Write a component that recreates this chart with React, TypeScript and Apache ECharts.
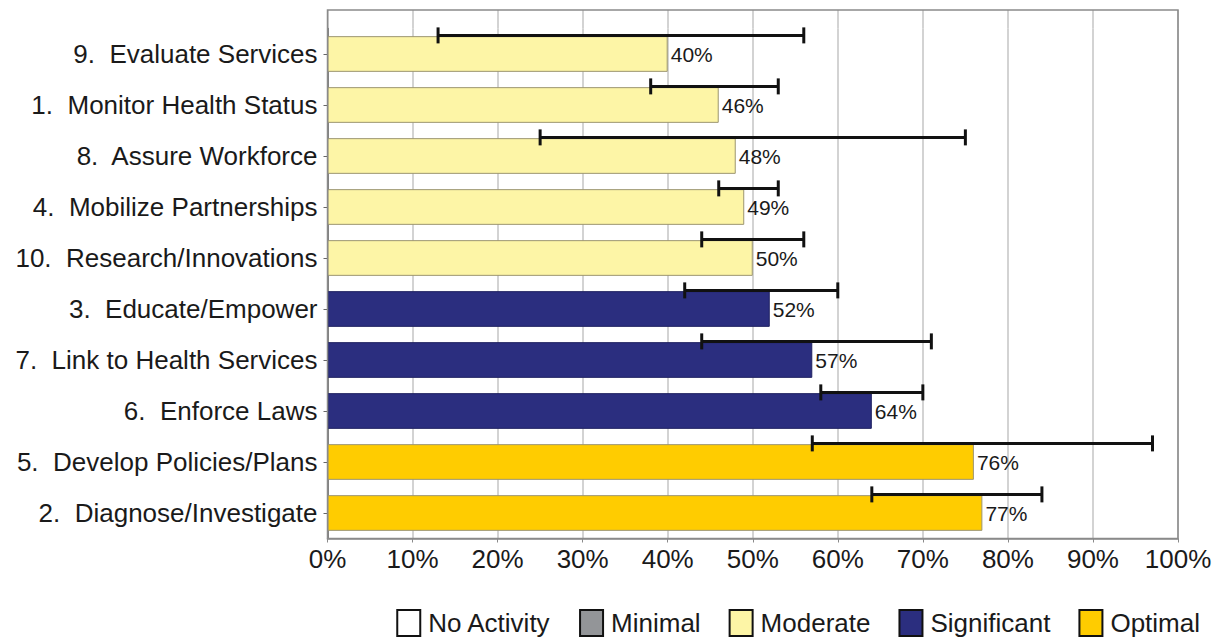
import React, { useEffect, useRef } from "react";
import * as echarts from "echarts";

const categories = [
  "9.  Evaluate Services",
  "1.  Monitor Health Status",
  "8.  Assure Workforce",
  "4.  Mobilize Partnerships",
  "10.  Research/Innovations",
  "3.  Educate/Empower",
  "7.  Link to Health Services",
  "6.  Enforce Laws",
  "5.  Develop Policies/Plans",
  "2.  Diagnose/Investigate",
];
const values = [40, 46, 48, 49, 50, 52, 57, 64, 76, 77];
const levels = [
  "Moderate", "Moderate", "Moderate", "Moderate", "Moderate",
  "Significant", "Significant", "Significant",
  "Optimal", "Optimal",
];
const errLow = [13, 38, 25, 46, 44, 42, 44, 58, 57, 64];
const errHigh = [56, 53, 75, 53, 56, 60, 71, 70, 97, 84];
const legendNames = ["No Activity", "Minimal", "Moderate", "Significant", "Optimal"];
const legendColors = ["#ffffff", "#939598", "#fdf5a6", "#2b2e7f", "#ffcc00"];
const xTicks = [0, 10, 20, 30, 40, 50, 60, 70, 80, 90, 100];

const FONT = "Liberation Sans, Arial, sans-serif";
const W = 1218;
const H = 637;
const PL = 327.5;
const PR = 1178;
const PT = 10;
const CT = 28.5;
const PB = 538.5;

export default function App() {
  const ref = useRef<HTMLDivElement>(null);
  useEffect(() => {
    if (!ref.current) return;
    const chart = echarts.init(ref.current, undefined, { renderer: "svg" });
    const barSeries = legendNames.map((name, k) => ({
      name,
      type: "bar",
      xAxisIndex: 0,
      yAxisIndex: 0,
      barWidth: "70%",
      barGap: "-100%",
      data: values.map((v, i) => (levels[i] === name ? v : "-")),
      itemStyle: {
        color: legendColors[k],
        borderColor: name === "Significant" ? "#1e2060" : "#9c9570",
        borderWidth: 1,
      },
      label: {
        show: true,
        position: "right",
        distance: 3,
        formatter: "{c}%",
        fontFamily: FONT,
        fontSize: 21,
        color: "#1a1a1a",
      },
      z: 2,
    }));
    const errSeries = {
      name: "err",
      type: "custom",
      xAxisIndex: 0,
      yAxisIndex: 0,
      z: 5,
      data: errLow.map((l, i) => [i, l, errHigh[i]]),
      encode: { x: [1, 2], y: 0 },
      renderItem: (params: any, api: any) => {
        const idx = api.value(0);
        const p1 = api.coord([api.value(1), idx]);
        const p2 = api.coord([api.value(2), idx]);
        const band = api.size([0, 1])[1];
        const y = p1[1] - band * 0.365;
        const cap = 8;
        const style = { stroke: "#111", lineWidth: 3 };
        return {
          type: "group",
          children: [
            { type: "line", shape: { x1: p1[0], y1: y, x2: p2[0], y2: y }, style },
            { type: "line", shape: { x1: p1[0], y1: y - cap, x2: p1[0], y2: y + cap }, style },
            { type: "line", shape: { x1: p2[0], y1: y - cap, x2: p2[0], y2: y + cap }, style },
          ],
        };
      },
    };
    chart.setOption({
      animation: false,
      backgroundColor: "#ffffff",
      grid: [
        { left: PL, right: W - PR, top: CT, bottom: H - PB, containLabel: false },
        { left: PL, right: W - PR, top: PT, height: CT - PT, containLabel: false },
      ],
      xAxis: [
        {
          type: "value",
          gridIndex: 0,
          min: 0,
          max: 100,
          interval: 10,
          axisLabel: {
            formatter: (v: number) => (xTicks.includes(v) ? v + "%" : ""),
            fontFamily: FONT,
            fontSize: 26,
            color: "#1a1a1a",
            margin: 7,
          },
          axisLine: { show: true, lineStyle: { color: "#8a8a8a", width: 1.5 } },
          axisTick: { show: true, length: 4, lineStyle: { color: "#8a8a8a" } },
          splitLine: { show: true, lineStyle: { color: "#c4c4c4", width: 1.5 } },
        },
        {
          type: "value",
          gridIndex: 1,
          min: 0,
          max: 100,
          interval: 10,
          axisLabel: { show: false },
          axisLine: { show: false },
          axisTick: { show: false },
          splitLine: { show: true, lineStyle: { color: "#c4c4c4", width: 1.5 } },
        },
      ],
      yAxis: [
        {
          type: "category",
          gridIndex: 0,
          data: categories,
          inverse: true,
          axisLabel: {
            fontFamily: FONT,
            fontSize: 26,
            color: "#1a1a1a",
            margin: 10,
          },
          axisLine: { show: true, lineStyle: { color: "#666", width: 1.5 } },
          axisTick: { show: true, alignWithLabel: true, length: 4, lineStyle: { color: "#666" } },
          splitLine: { show: false },
        },
        {
          type: "value",
          gridIndex: 1,
          show: false,
        },
      ],
      legend: {
        data: legendNames,
        right: 18,
        top: 609,
        padding: 0,
        itemWidth: 23,
        itemHeight: 26,
        itemGap: 28,
        icon: "rect",
        itemStyle: { borderColor: "#111", borderWidth: 2 },
        textStyle: {
          fontFamily: FONT,
          fontSize: 26,
          color: "#1a1a1a",
          padding: [0, 0, 0, 3],
        },
        selectedMode: false,
      },
      graphic: [
        {
          type: "rect",
          shape: { x: PL, y: PT, width: PR - PL, height: PB - PT },
          style: { fill: "none", stroke: "#8a8a8a", lineWidth: 1.5 },
          z: 10,
          silent: true,
        },
      ],
      series: [...barSeries, errSeries],
    });
    return () => chart.dispose();
  }, []);
  return (
    <div
      ref={ref}
      style={{ position: "absolute", left: 0, top: 0, width: W, height: H }}
    />
  );
}
